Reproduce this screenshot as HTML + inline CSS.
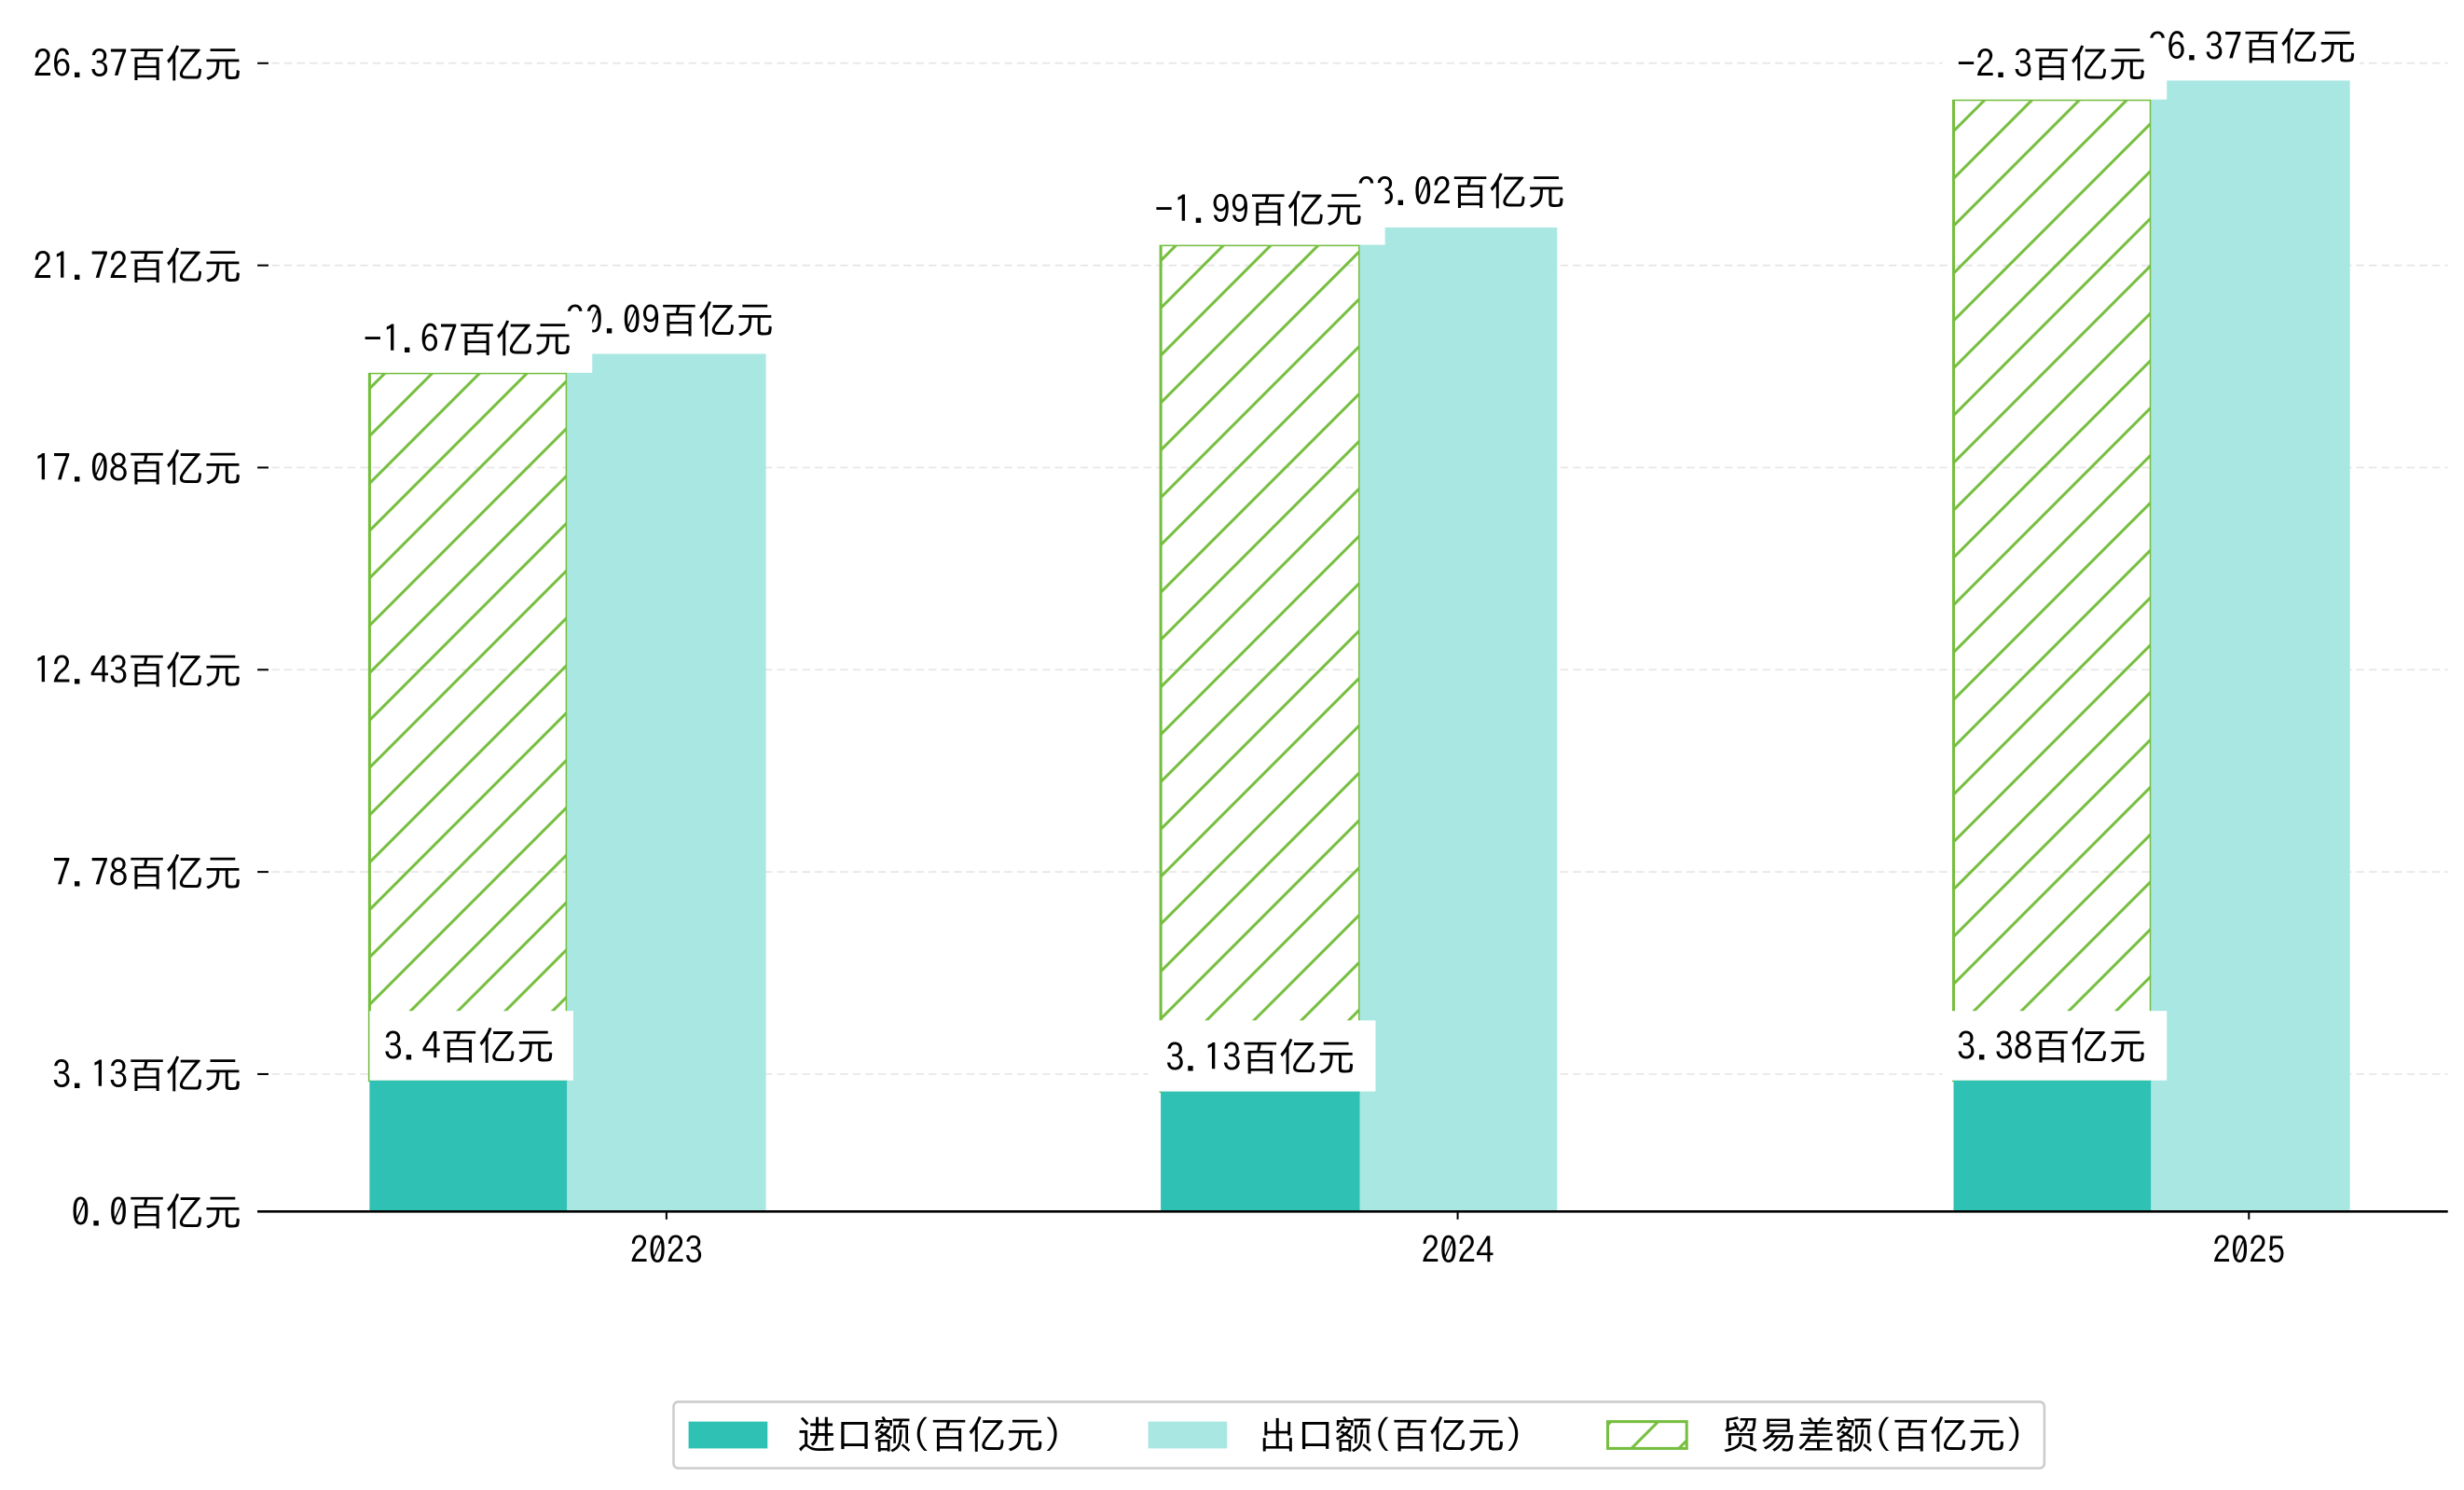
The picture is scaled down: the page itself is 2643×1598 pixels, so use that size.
<!DOCTYPE html>
<html><head><meta charset="utf-8">
<style>
html,body{margin:0;padding:0;background:#fff;}
svg{display:block;}
text{font-family:"IPAGothic","WenQuanYi Zen Hei","Noto Sans CJK SC",sans-serif;fill:#000;}
</style></head>
<body>
<svg width="2643" height="1598" viewBox="0 0 1560.2 943.3" xmlns="http://www.w3.org/2000/svg">
<defs>
<pattern id="h" patternUnits="userSpaceOnUse" width="30" height="30">
<path d="M-5,5 L5,-5 M0,30 L30,0 M25,35 L35,25" stroke="#76BE3F" stroke-width="1.8"/>
</pattern>
</defs>
<g stroke="#e6e6e6" stroke-width="1" stroke-dasharray="5,3">
<line x1="172" x2="1550" y1="40" y2="40"/>
<line x1="172" x2="1550" y1="168" y2="168"/>
<line x1="172" x2="1550" y1="296" y2="296"/>
<line x1="172" x2="1550" y1="424" y2="424"/>
<line x1="172" x2="1550" y1="552" y2="552"/>
<line x1="172" x2="1550" y1="680" y2="680"/>
</g>
<g stroke="#000" stroke-width="1.2">
<line x1="163" x2="170" y1="40" y2="40"/>
<line x1="163" x2="170" y1="168" y2="168"/>
<line x1="163" x2="170" y1="296" y2="296"/>
<line x1="163" x2="170" y1="424" y2="424"/>
<line x1="163" x2="170" y1="552" y2="552"/>
<line x1="163" x2="170" y1="680" y2="680"/>
<line x1="163" x2="170" y1="767" y2="767"/>
</g>
<g font-size="24" text-anchor="end">
<text x="153" y="49">26.37百亿元</text>
<text x="153" y="177">21.72百亿元</text>
<text x="153" y="305">17.08百亿元</text>
<text x="153" y="433">12.43百亿元</text>
<text x="153" y="561">7.78百亿元</text>
<text x="153" y="689">3.13百亿元</text>
<text x="153" y="776">0.0百亿元</text>
</g>
<g>
<rect x="234" y="236" width="125" height="448" fill="url(#h)" stroke="#76BE3F" stroke-width="1.8"/>
<rect x="359" y="224" width="126" height="543" fill="#A9E7E2"/>
<rect x="234" y="684" width="125" height="83" fill="#2FC1B4"/>
<rect x="735" y="155" width="126" height="536" fill="url(#h)" stroke="#76BE3F" stroke-width="1.8"/>
<rect x="861" y="144" width="125" height="623" fill="#A9E7E2"/>
<rect x="735" y="691" width="126" height="76" fill="#2FC1B4"/>
<rect x="1237" y="63" width="125" height="621" fill="url(#h)" stroke="#76BE3F" stroke-width="1.8"/>
<rect x="1362" y="51" width="126" height="716" fill="#A9E7E2"/>
<rect x="1237" y="684" width="125" height="83" fill="#2FC1B4"/>
</g>
<g font-size="24" text-anchor="middle">
<rect x="352" y="186" width="140" height="38" fill="#fff"/>
<text x="424" y="211">20.09百亿元</text>
<rect x="853" y="105" width="140" height="38" fill="#fff"/>
<text x="925" y="130">23.02百亿元</text>
<rect x="1354" y="12" width="140" height="38" fill="#fff"/>
<text x="1426" y="38">26.37百亿元</text>
</g>
<g font-size="24" text-anchor="middle">
<rect x="225" y="197" width="150" height="39" fill="#fff"/>
<text x="296" y="223">-1.67百亿元</text>
<rect x="725" y="116" width="152" height="39" fill="#fff"/>
<text x="797" y="141">-1.99百亿元</text>
<rect x="1230" y="24" width="142" height="39" fill="#fff"/>
<text x="1299" y="49">-2.3百亿元</text>
</g>
<g font-size="24" text-anchor="middle">
<rect x="234" y="640" width="129" height="44" fill="#fff"/>
<text x="297" y="671">3.4百亿元</text>
<rect x="727" y="646" width="144" height="45" fill="#fff"/>
<text x="798" y="678">3.13百亿元</text>
<rect x="1230" y="640" width="142" height="44" fill="#fff"/>
<text x="1299" y="671">3.38百亿元</text>
</g>
<line x1="163" x2="1550" y1="767" y2="767" stroke="#000" stroke-width="1.5"/>
<g stroke="#000" stroke-width="1.2">
<line x1="422" x2="422" y1="767" y2="772"/>
<line x1="923" x2="923" y1="767" y2="772"/>
<line x1="1424" x2="1424" y1="767" y2="772"/>
</g>
<g font-size="23" text-anchor="middle">
<text x="422" y="800">2023</text>
<text x="923" y="800">2024</text>
<text x="1424" y="800">2025</text>
</g>
<rect x="426.5" y="887.5" width="868" height="42" rx="3" fill="#fff" stroke="#cccccc" stroke-width="1.5"/>
<rect x="436" y="900" width="50" height="17" fill="#2FC1B4"/>
<text x="505" y="917" font-size="24">进口额(百亿元)</text>
<rect x="727" y="900" width="50" height="17" fill="#A9E7E2"/>
<text x="797" y="917" font-size="24">出口额(百亿元)</text>
<rect x="1018" y="900" width="50" height="17" fill="url(#h)" stroke="#76BE3F" stroke-width="1.8"/>
<text x="1090" y="917" font-size="24">贸易差额(百亿元)</text>
</svg>
</body></html>
